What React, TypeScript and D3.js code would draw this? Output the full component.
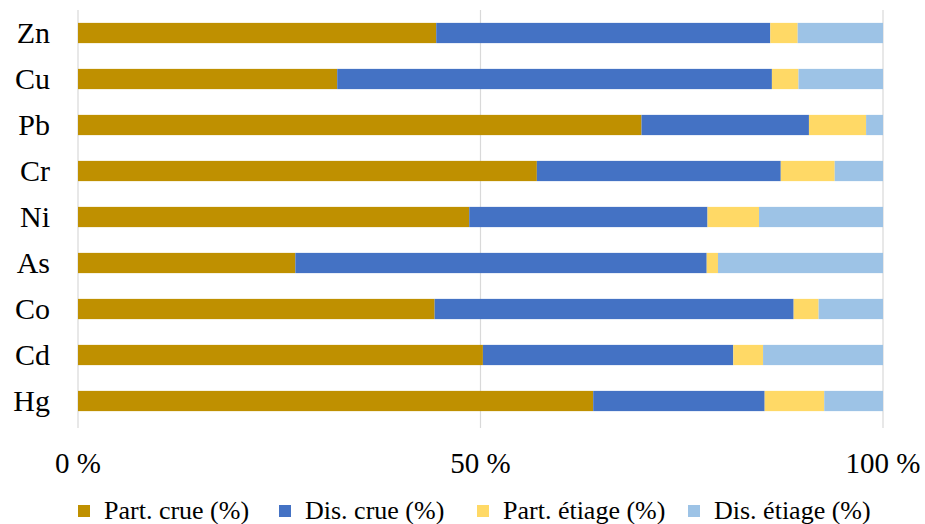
import React from "react";
import * as d3 from "d3";

const categories = ["Zn", "Cu", "Pb", "Cr", "Ni", "As", "Co", "Cd", "Hg"];
const seriesNames = ["Part. crue (%)", "Dis. crue (%)", "Part. étiage (%)", "Dis. étiage (%)"];
const partCrue = [44.5, 32.2, 70.0, 57.0, 48.6, 27.0, 44.3, 50.3, 64.0];
const disCrue = [41.5, 54.0, 20.8, 30.3, 29.6, 51.1, 44.6, 31.1, 21.3];
const partEtiage = [3.4, 3.3, 7.1, 6.7, 6.4, 1.4, 3.1, 3.7, 7.4];
const disEtiage = [10.6, 10.5, 2.1, 6.0, 15.4, 20.5, 8.0, 14.9, 7.3];
const colors = ["#BF9000", "#4472C4", "#FFD966", "#9DC3E6"];
const ticks = [0, 50, 100];

const W = 925;
const H = 524;

export default function App() {
  const keys = ["pc", "dc", "pe", "de"];
  const table = categories.map((c, i) => ({
    cat: c,
    pc: partCrue[i],
    dc: disCrue[i],
    pe: partEtiage[i],
    de: disEtiage[i],
  }));
  const stacked = d3.stack<any>().keys(keys).offset(d3.stackOffsetExpand)(table);

  const x = d3.scaleLinear().domain([0, 1]).range([78, 883]);
  const y = d3.scaleBand().domain(categories).range([10, 424]).paddingInner(0.56).paddingOuter(0.28);

  const legendX = [78, 279, 477, 688];

  return (
    <div style={{ position: "absolute", left: 0, top: 0, width: W, height: H, fontFamily: '"Liberation Serif", serif' }}>
      <svg width={W} height={H} fontFamily="Liberation Serif, serif">
        <style>{`text { font-family: "Liberation Serif", serif; }`}</style>
        <rect width={W} height={H} fill="#fff" />
        {ticks.map((t) => (
          <line key={t} x1={x(t / 100)} x2={x(t / 100)} y1={10} y2={428} stroke="#D9D9D9" strokeWidth={1.2} />
        ))}
        {stacked.map((s, si) => (
          <g key={si} fill={colors[si]}>
            {s.map((d, i) => (
              <rect
                key={i}
                x={x(d[0])}
                y={y(categories[i])}
                width={x(d[1]) - x(d[0])}
                height={y.bandwidth()}
              />
            ))}
          </g>
        ))}
        {categories.map((c) => (
          <text
            key={c}
            x={50}
            y={(y(c) as number) + y.bandwidth() / 2 + 10}
            textAnchor="end"
            fontSize={30}
            fill="#000"
          >
            {c}
          </text>
        ))}
        {ticks.map((t) => (
          <text key={t} x={x(t / 100)} y={473} textAnchor="middle" fontSize={29} fill="#000">
            {t + " %"}
          </text>
        ))}
        {seriesNames.map((n, i) => (
          <g key={n}>
            <rect x={legendX[i]} y={505} width={12} height={12} fill={colors[i]} />
            <text x={legendX[i] + 26} y={519} fontSize={26} fill="#000">
              {n}
            </text>
          </g>
        ))}
      </svg>
    </div>
  );
}
